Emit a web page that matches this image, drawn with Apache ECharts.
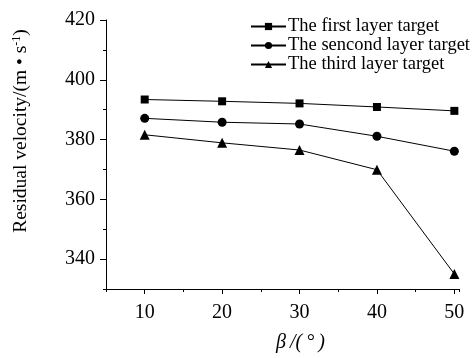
<!DOCTYPE html>
<html>
<head>
<meta charset="utf-8">
<script src="https://cdn.jsdelivr.net/npm/echarts@6/dist/echarts.min.js"></script>
<style>html,body{margin:0;padding:0;background:#fff}#c{width:476px;height:358px}</style>
</head>
<body>
<div id="c"></div>
<script>
var angles = [10, 20, 30, 40, 50];
var firstLayer = [393.4, 392.8, 392.1, 390.9, 389.6];
var secondLayer = [387.1, 385.8, 385.2, 381.1, 376.1];
var thirdLayer = [381.6, 378.9, 376.5, 369.9, 335.0];
var seriesNames = ['The first layer target', 'The sencond layer target', 'The third layer target'];
var xMajorTicks = [10, 20, 30, 40, 50];
var yMajorTicks = [340, 360, 380, 400, 420];

function pairs(ys) { return angles.map(function (a, i) { return [a, ys[i]]; }); }
var FONT = 'Liberation Serif';
var black = '#000';

var chart = echarts.init(document.getElementById('c'), null, {renderer: 'canvas'});
var baseX = {
  type: 'value', min: 5, max: 50.6, interval: 5, gridIndex: 0,
  axisLine: {show: true, lineStyle: {color: black, width: 1}},
  splitLine: {show: false}
};
var baseY = {
  type: 'value', min: 330, max: 420, interval: 10, gridIndex: 0,
  axisLine: {show: true, lineStyle: {color: black, width: 1}},
  splitLine: {show: false}
};
var lineSeries = function (name, data, symbol, size) {
  return {
    name: name, type: 'line', data: pairs(data), symbol: symbol, symbolSize: size,
    lineStyle: {color: black, width: 1}, itemStyle: {color: black},
    showSymbol: true, animation: false, xAxisIndex: 0, yAxisIndex: 0
  };
};
chart.setOption({
  animation: false,
  grid: {left: 106, right: 17, top: 20, bottom: 69},
  xAxis: [
    Object.assign({}, baseX, {
      position: 'bottom',
      axisTick: {show: true, length: 3, inside: false, lineStyle: {color: black}},
      axisLabel: {
        color: black, fontFamily: FONT, fontSize: 20, margin: 14,
        formatter: function (v) { return v % 10 === 0 ? String(v) : ''; }
      },
      name: 'β\u2009/(\u2009°\u2009)', nameLocation: 'middle', nameGap: 44,
      nameTextStyle: {color: black, fontFamily: FONT, fontSize: 20, fontStyle: 'italic', padding: [0, 0, 0, 36]}
    }),
    Object.assign({}, baseX, {
      position: 'bottom',
      axisLine: {show: false},
      axisTick: {show: true, length: 5, customValues: xMajorTicks, lineStyle: {color: black}},
      axisLabel: {show: false}
    })
  ],
  yAxis: [
    Object.assign({}, baseY, {
      position: 'left',
      axisTick: {show: true, length: 3, lineStyle: {color: black}},
      axisLabel: {
        color: black, fontFamily: FONT, fontSize: 20, margin: 11,
        formatter: function (v) { return v % 20 === 0 ? String(v) : ''; }
      }
    }),
    Object.assign({}, baseY, {
      position: 'left',
      axisLine: {show: false},
      axisTick: {show: true, length: 6, customValues: yMajorTicks, lineStyle: {color: black}},
      axisLabel: {show: false}
    })
  ],
  legend: {
    orient: 'vertical', left: 245, top: 12, itemGap: 0,
    itemWidth: 35, itemHeight: 9,
    textStyle: {color: black, fontFamily: FONT, fontSize: 18.5, padding: [0, 0, 0, -3]},
    data: seriesNames
  },
  graphic: [{
    type: 'text', x: 21, y: 131, rotation: Math.PI / 2,
    style: {
      text: 'Residual velocity/(m • s{sup|-1})',
      fill: black, font: '19.5px "Liberation Serif"',
      align: 'center', verticalAlign: 'middle',
      rich: {sup: {fontSize: 12, verticalAlign: 'top', padding: [0, 0, 9, 0], fontFamily: FONT, fill: black}}
    }
  }],
  series: [
    lineSeries(seriesNames[0], firstLayer, 'rect', 8),
    lineSeries(seriesNames[1], secondLayer, 'circle', 9),
    lineSeries(seriesNames[2], thirdLayer, 'triangle', 10)
  ]
});
</script>
</body>
</html>
